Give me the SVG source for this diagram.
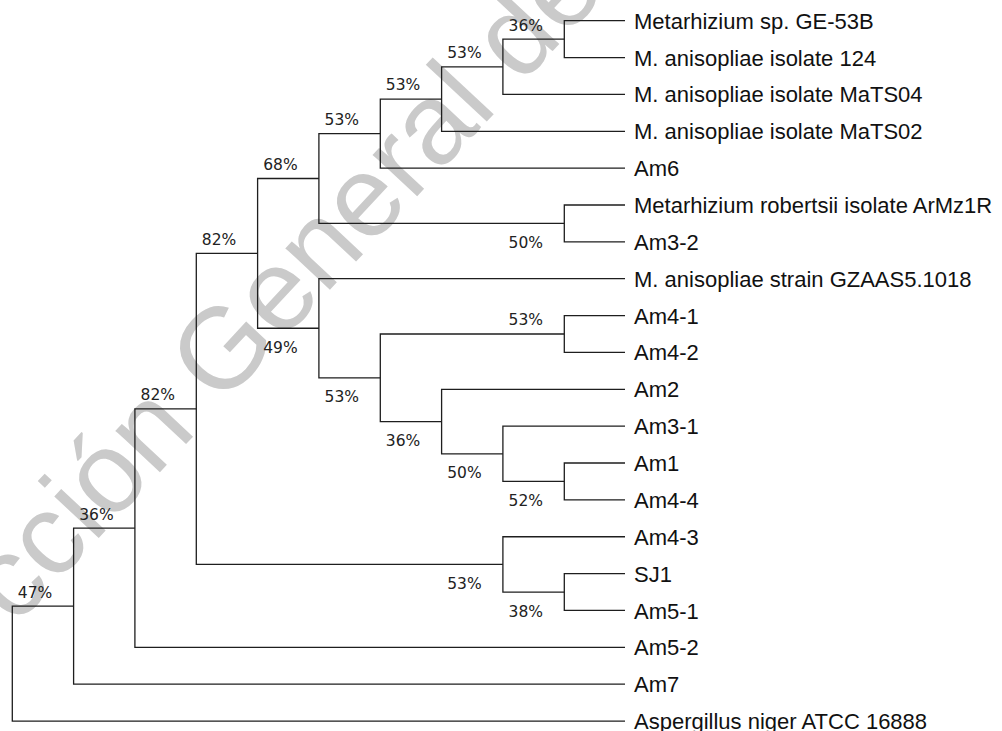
<svg xmlns="http://www.w3.org/2000/svg" width="1002" height="731" viewBox="0 0 1002 731">
<style>
.wm{font-family:"Liberation Sans",Arial,sans-serif;font-size:115px;fill:#cacaca}
.br{fill:none;stroke:#1e1e1e;stroke-width:1.3}
.lf{font-family:"Liberation Sans",Arial,sans-serif;font-size:22px;fill:#111}
.bs{font-family:"DejaVu Sans",Verdana,sans-serif;font-size:15.5px;fill:#222;text-anchor:middle}
</style>
<rect width="1002" height="731" fill="#fff"/>
<text class="wm" transform="translate(15,627.5) rotate(-47)">cción General de</text>
<g id="connectors">
<path class="br" d="M73.6 606.14H12.3V721.04H625"/>
<path class="br" d="M134.9 528.1H73.6V684.18H625"/>
<path class="br" d="M196.3 408.88H134.9V647.32H625"/>
<path class="br" d="M257.6 253.38H196.3V564.39H502.9"/>
<path class="br" d="M318.9 178.51H257.6V328.25H318.9"/>
<path class="br" d="M380.3 133.59H318.9V223.43H564.3"/>
<path class="br" d="M441.6 99.03H380.3V168.14H625"/>
<path class="br" d="M502.9 66.78H441.6V131.28H625"/>
<path class="br" d="M564.3 39.13H502.9V94.42H625"/>
<path class="br" d="M625 20.7H564.3V57.56H625"/>
<path class="br" d="M625 205H564.3V241.86H625"/>
<path class="br" d="M625 278.72H318.9V377.78H380.3"/>
<path class="br" d="M564.3 334.01H380.3V421.55H441.6"/>
<path class="br" d="M625 315.58H564.3V352.44H625"/>
<path class="br" d="M625 389.3H441.6V453.81H502.9"/>
<path class="br" d="M625 426.16H502.9V481.45H564.3"/>
<path class="br" d="M625 463.02H564.3V499.88H625"/>
<path class="br" d="M625 536.74H502.9V592.03H564.3"/>
<path class="br" d="M625 573.6H564.3V610.46H625"/>
</g>
<g id="support">
<g id="nK"><text class="bs" x="525.8" y="30.5">36%</text></g>
<g id="nJ"><text class="bs" x="464.4" y="58.2">53%</text></g>
<g id="nI"><text class="bs" x="403.1" y="90.4">53%</text></g>
<g id="nH"><text class="bs" x="341.8" y="125">53%</text></g>
<g id="nF"><text class="bs" x="280.4" y="169.9">68%</text></g>
<g id="nD"><text class="bs" x="219.1" y="244.8">82%</text></g>
<g id="nQ"><text class="bs" x="525.8" y="247.9">50%</text></g>
<g id="nG"><text class="bs" x="280.4" y="352.8">49%</text></g>
<g id="nR"><text class="bs" x="525.8" y="325.4">53%</text></g>
<g id="nL"><text class="bs" x="341.8" y="402.3">53%</text></g>
<g id="nM"><text class="bs" x="403.1" y="446">36%</text></g>
<g id="nN"><text class="bs" x="464.4" y="478.3">50%</text></g>
<g id="nO"><text class="bs" x="525.8" y="506">52%</text></g>
<g id="nE"><text class="bs" x="464.4" y="588.9">53%</text></g>
<g id="nP"><text class="bs" x="525.8" y="616.5">38%</text></g>
<g id="nC"><text class="bs" x="157.8" y="400.3">82%</text></g>
<g id="nB"><text class="bs" x="96.4" y="519.5">36%</text></g>
<g id="nA"><text class="bs" x="35.1" y="597.5">47%</text></g>
</g>
<g id="leaves">
<g id="leaf1"><text class="lf" x="634" y="28.7">Metarhizium sp. GE-53B</text></g>
<g id="leaf2"><text class="lf" x="634" y="65.6">M. anisopliae isolate 124</text></g>
<g id="leaf3"><text class="lf" x="634" y="102.4">M. anisopliae isolate MaTS04</text></g>
<g id="leaf4"><text class="lf" x="634" y="139.3">M. anisopliae isolate MaTS02</text></g>
<g id="leaf5"><text class="lf" x="634" y="176.1">Am6</text></g>
<g id="leaf6"><text class="lf" x="634" y="213">Metarhizium robertsii isolate ArMz1R</text></g>
<g id="leaf7"><text class="lf" x="634" y="249.9">Am3-2</text></g>
<g id="leaf8"><text class="lf" x="634" y="286.7">M. anisopliae strain GZAAS5.1018</text></g>
<g id="leaf9"><text class="lf" x="634" y="323.6">Am4-1</text></g>
<g id="leaf10"><text class="lf" x="634" y="360.4">Am4-2</text></g>
<g id="leaf11"><text class="lf" x="634" y="397.3">Am2</text></g>
<g id="leaf12"><text class="lf" x="634" y="434.2">Am3-1</text></g>
<g id="leaf13"><text class="lf" x="634" y="471">Am1</text></g>
<g id="leaf14"><text class="lf" x="634" y="507.9">Am4-4</text></g>
<g id="leaf15"><text class="lf" x="634" y="544.7">Am4-3</text></g>
<g id="leaf16"><text class="lf" x="634" y="581.6">SJ1</text></g>
<g id="leaf17"><text class="lf" x="634" y="618.5">Am5-1</text></g>
<g id="leaf18"><text class="lf" x="634" y="655.3">Am5-2</text></g>
<g id="leaf19"><text class="lf" x="634" y="692.2">Am7</text></g>
<g id="leaf20"><text class="lf" x="634" y="729">Aspergillus niger ATCC 16888</text></g>
</g>
</svg>
